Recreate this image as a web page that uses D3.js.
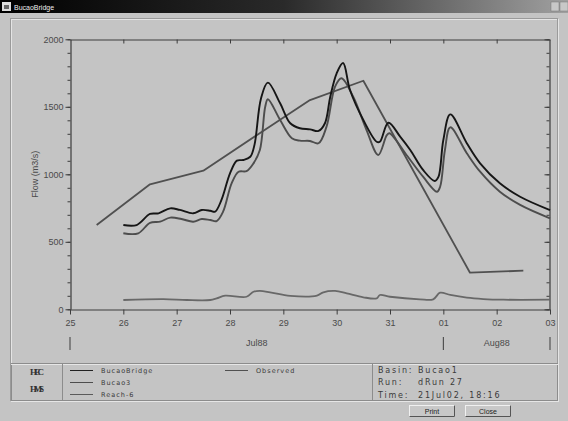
<!DOCTYPE html>
<meta charset="utf-8">
<script src="https://d3js.org/d3.v7.min.js"></script>
<style>
  body { margin: 0; background: #c4c4c4; }
  svg { display: block; }
</style>
<div id="my_dataviz"></div>
<script>
// day offsets from 25 Jul 1988, flows in m3/s
var bridgeT = [1.0, 1.25, 1.5, 1.66, 1.88, 2.06, 2.31, 2.47, 2.63, 2.72, 2.84, 3.0, 3.13, 3.25, 3.38, 3.46, 3.58, 3.71, 3.94, 4.13, 4.31, 4.5, 4.66, 4.78, 4.88, 5.0, 5.12, 5.25, 5.5, 5.75, 5.81, 5.97, 6.19, 6.38, 6.62, 6.84, 6.91, 7.0, 7.13, 7.44, 7.69, 8.06, 8.44, 9.0];
var bridgeV = [624, 624, 706, 711, 748, 736, 711, 736, 730, 723, 810, 1007, 1101, 1106, 1130, 1220, 1560, 1679, 1526, 1378, 1341, 1333, 1321, 1378, 1575, 1748, 1824, 1624, 1402, 1241, 1241, 1382, 1279, 1180, 1032, 950, 982, 1254, 1444, 1230, 1081, 933, 834, 735];

var bucao3T = [1.0, 1.28, 1.5, 1.69, 1.88, 2.09, 2.31, 2.47, 2.63, 2.75, 2.87, 3.03, 3.16, 3.31, 3.44, 3.56, 3.66, 3.71, 3.94, 4.16, 4.31, 4.5, 4.66, 4.81, 4.97, 5.09, 5.31, 5.56, 5.78, 5.94, 5.99, 6.31, 6.62, 6.88, 6.94, 7.03, 7.13, 7.44, 7.69, 8.06, 8.44, 9.0];
var bucao3V = [563, 563, 641, 649, 679, 669, 649, 669, 661, 654, 723, 933, 1019, 1024, 1081, 1180, 1500, 1556, 1402, 1267, 1249, 1247, 1230, 1353, 1649, 1711, 1575, 1328, 1143, 1290, 1304, 1143, 982, 871, 908, 1180, 1348, 1156, 1019, 871, 773, 674];

var reachT = [1.0, 1.75, 2.19, 2.63, 2.75, 2.91, 3.31, 3.44, 3.56, 3.75, 4.13, 4.63, 4.75, 4.97, 5.19, 5.5, 5.75, 5.81, 6.0, 6.56, 6.81, 6.94, 7.13, 7.44, 7.75, 8.13, 9.0];
var reachV = [69, 76, 69, 69, 81, 101, 93, 130, 136, 126, 99, 101, 126, 136, 118, 89, 81, 106, 93, 74, 74, 123, 106, 86, 76, 71, 71];

var obsT = [0.5, 1.5, 2.5, 3.5, 4.5, 5.5, 6.5, 7.5, 8.5];
var obsV = [624, 926, 1027, 1290, 1550, 1693, 982, 271, 286];

var dayLabels = ["25", "26", "27", "28", "29", "30", "31", "01", "02", "03"];
var monthLabels = [{name: "Jul88", from: 0, to: 7}, {name: "Aug88", from: 7, to: 9}];
var yTicks = [0, 500, 1000, 1500, 2000];

var legendNames = ["BucaoBridge", "Bucao3", "Reach-6", "Observed"];
var infoKeys = ["Basin:", "Run:", "Time:"];
var infoVals = ["Bucao1", "dRun 27", "21Jul02, 18:16"];

var width = 568, height = 421;

var svg = d3.select("#my_dataviz")
  .append("svg")
    .attr("width", width)
    .attr("height", height);

// title bar
var grad = svg.append("defs").append("linearGradient").attr("id", "tb");
grad.append("stop").attr("offset", "0%").attr("stop-color", "#000");
grad.append("stop").attr("offset", "50%").attr("stop-color", "#2a2a2a");
grad.append("stop").attr("offset", "100%").attr("stop-color", "#a0a0a0");
svg.append("rect").attr("x", 0).attr("y", 0).attr("width", width).attr("height", 13).attr("fill", "url(#tb)");
svg.append("rect").attr("x", 2).attr("y", 2).attr("width", 9).attr("height", 9).attr("fill", "#ddd");
svg.append("rect").attr("x", 4).attr("y", 5).attr("width", 5).attr("height", 4).attr("fill", "#666");
svg.append("text").attr("x", 14).attr("y", 10).text("BucaoBridge")
  .attr("font-family", "Liberation Sans, Arial").attr("font-size", "7px").attr("fill", "#eee");
[551, 560].forEach(function(x) {
  svg.append("rect").attr("x", x).attr("y", 2).attr("width", 8).attr("height", 9)
    .attr("fill", "#c8c8c8").attr("stroke", "#777").attr("stroke-width", 0.5);
});

// panel bevel
svg.append("rect").attr("x", 11.5).attr("y", 19.5).attr("width", 547).attr("height", 382)
  .attr("fill", "none").attr("stroke", "#e4e4e4");
svg.append("rect").attr("x", 10.5).attr("y", 18.5).attr("width", 547).attr("height", 382)
  .attr("fill", "none").attr("stroke", "#9a9a9a");

var x = d3.scaleLinear().domain([0, 9]).range([70, 550]);
var y = d3.scaleLinear().domain([0, 2000]).range([309.3, 39.3]);

var axisColor = "#3c3c3c";
var labelColor = "#4a4a4a";
var g = svg.append("g");

function styleAxis(sel) {
  sel.select(".domain").attr("stroke", axisColor).attr("stroke-width", 1.2);
  sel.selectAll(".tick line").attr("stroke", axisColor);
  sel.selectAll("text").attr("fill", labelColor).attr("font-family", "Liberation Sans, Arial").attr("font-size", "9px");
}

// bottom axis
var bx = g.append("g").attr("transform", "translate(0,309.5)")
  .call(d3.axisBottom(x).tickValues(d3.range(10)).tickSize(5).tickSizeOuter(0)
    .tickFormat(function(d) { return dayLabels[d]; }));
styleAxis(bx);
bx.selectAll("text").attr("dy", "0.95em");

// top axis
var tx = g.append("g").attr("transform", "translate(0,39.5)")
  .call(d3.axisBottom(x).tickValues(d3.range(1, 9)).tickSize(4).tickSizeOuter(0).tickFormat(""));
styleAxis(tx);

// left axis: minor ticks then major with labels
var ly = g.append("g").attr("transform", "translate(70.5,0)")
  .call(d3.axisLeft(y).tickValues(d3.range(0, 2001, 100)).tickSize(3).tickSizeOuter(0).tickFormat(""));
styleAxis(ly);
var ly2 = g.append("g").attr("transform", "translate(70.5,0)")
  .call(d3.axisLeft(y).tickValues(yTicks).tickSize(5).tickSizeOuter(0).tickFormat(d3.format("d")));
styleAxis(ly2);
ly2.select(".domain").remove();
ly2.selectAll("text").attr("x", -7);

// right axis, ticks inward
var ry = g.append("g").attr("transform", "translate(549.5,0)")
  .call(d3.axisLeft(y).tickValues(d3.range(0, 2001, 100)).tickSize(3).tickSizeOuter(0).tickFormat(""));
styleAxis(ry);
var ry2 = g.append("g").attr("transform", "translate(549.5,0)")
  .call(d3.axisLeft(y).tickValues(yTicks).tickSize(5).tickSizeOuter(0).tickFormat(""));
styleAxis(ry2);
ry2.select(".domain").remove();

// y label
g.append("text")
  .attr("transform", "translate(38," + y(1000) + ") rotate(-90)")
  .attr("text-anchor", "middle")
  .attr("font-family", "Liberation Sans, Arial").attr("font-size", "9px").attr("fill", labelColor)
  .text("Flow (m3/s)");

// month row
[0, 7, 9].forEach(function(d) {
  g.append("line").attr("x1", x(d)).attr("x2", x(d)).attr("y1", 337).attr("y2", 350)
    .attr("stroke", axisColor).attr("stroke-width", 1);
});
monthLabels.forEach(function(m) {
  g.append("text").attr("x", (x(m.from) + x(m.to)) / 2).attr("y", 346)
    .attr("text-anchor", "middle")
    .attr("font-family", "Liberation Sans, Arial").attr("font-size", "9px").attr("fill", labelColor)
    .text(m.name);
});

// series
var smooth = d3.line().x(function(d) { return x(d[0]); }).y(function(d) { return y(d[1]); }).curve(d3.curveCatmullRom.alpha(0.5));
var straight = d3.line().x(function(d) { return x(d[0]); }).y(function(d) { return y(d[1]); });

var series = [
  {t: obsT, v: obsV, color: "#505050", w: 1.8, line: straight},
  {t: reachT, v: reachV, color: "#686868", w: 1.8, line: smooth},
  {t: bucao3T, v: bucao3V, color: "#4d4d4d", w: 1.9, line: smooth},
  {t: bridgeT, v: bridgeV, color: "#161616", w: 1.9, line: smooth}
];
series.forEach(function(s) {
  g.append("path")
    .datum(d3.zip(s.t, s.v))
    .attr("fill", "none")
    .attr("stroke", s.color)
    .attr("stroke-width", s.w)
    .attr("stroke-linejoin", "round")
    .attr("d", s.line);
});

// legend panel
var lp = svg.append("g");
lp.append("rect").attr("x", 11.5).attr("y", 363.5).attr("width", 546).attr("height", 37)
  .attr("fill", "none").attr("stroke", "#8c8c8c");
lp.append("line").attr("x1", 11).attr("x2", 558).attr("y1", 364.5).attr("y2", 364.5).attr("stroke", "#e6e6e6");
[62.5, 372.5].forEach(function(xx) {
  lp.append("line").attr("x1", xx).attr("x2", xx).attr("y1", 363).attr("y2", 401).attr("stroke", "#8c8c8c");
});
lp.append("line").attr("x1", 11).attr("x2", 558).attr("y1", 401.5).attr("y2", 401.5).attr("stroke", "#e6e6e6");

lp.append("text").attr("x", 37).attr("y", 375).attr("text-anchor", "middle")
  .attr("font-family", "Liberation Serif, Times").attr("font-size", "9px").attr("font-weight", "bold")
  .attr("fill", "#333").attr("textLength", 14).text("HEC");
lp.append("text").attr("x", 37).attr("y", 392).attr("text-anchor", "middle")
  .attr("font-family", "Liberation Serif, Times").attr("font-size", "9px").attr("font-weight", "bold")
  .attr("fill", "#333").attr("textLength", 14).text("HMS");

var legendPos = [[70, 370.5], [70, 382.5], [70, 394.5], [225, 370.5]];
var legendColors = ["#222", "#4d4d4d", "#5a5a5a", "#505050"];
legendNames.forEach(function(name, i) {
  var p = legendPos[i];
  lp.append("line").attr("x1", p[0]).attr("x2", p[0] + 23).attr("y1", p[1]).attr("y2", p[1])
    .attr("stroke", legendColors[i]).attr("stroke-width", 1);
  lp.append("text").attr("x", p[0] + 31).attr("y", p[1] + 2.5)
    .attr("font-family", "DejaVu Sans, sans-serif").attr("font-size", "6.5px").attr("letter-spacing", "1px")
    .attr("fill", "#3a3a3a").text(name);
});

infoKeys.forEach(function(k, i) {
  var yy = 373 + i * 12.3;
  lp.append("text").attr("x", 378).attr("y", yy)
    .attr("font-family", "DejaVu Sans, sans-serif").attr("font-size", "8px").attr("letter-spacing", "1.8px")
    .attr("fill", "#3a3a3a").text(k);
  lp.append("text").attr("x", 418).attr("y", yy)
    .attr("font-family", "DejaVu Sans, sans-serif").attr("font-size", "8px").attr("letter-spacing", "1.8px")
    .attr("fill", "#3a3a3a").text(infoVals[i]);
});

// buttons
[["Print", 409], ["Close", 465]].forEach(function(b) {
  var bg = svg.append("g");
  bg.append("rect").attr("x", b[1] + 0.5).attr("y", 405.5).attr("width", 45).attr("height", 11)
    .attr("fill", "#c8c8c8").attr("stroke", "#f0f0f0");
  bg.append("path").attr("d", "M" + (b[1] + 0.5) + ",416.5 H" + (b[1] + 45.5) + " V405.5")
    .attr("fill", "none").attr("stroke", "#555");
  bg.append("text").attr("x", b[1] + 23).attr("y", 414).attr("text-anchor", "middle")
    .attr("font-family", "Liberation Sans, Arial").attr("font-size", "7px").attr("fill", "#222").text(b[0]);
});
</script>
